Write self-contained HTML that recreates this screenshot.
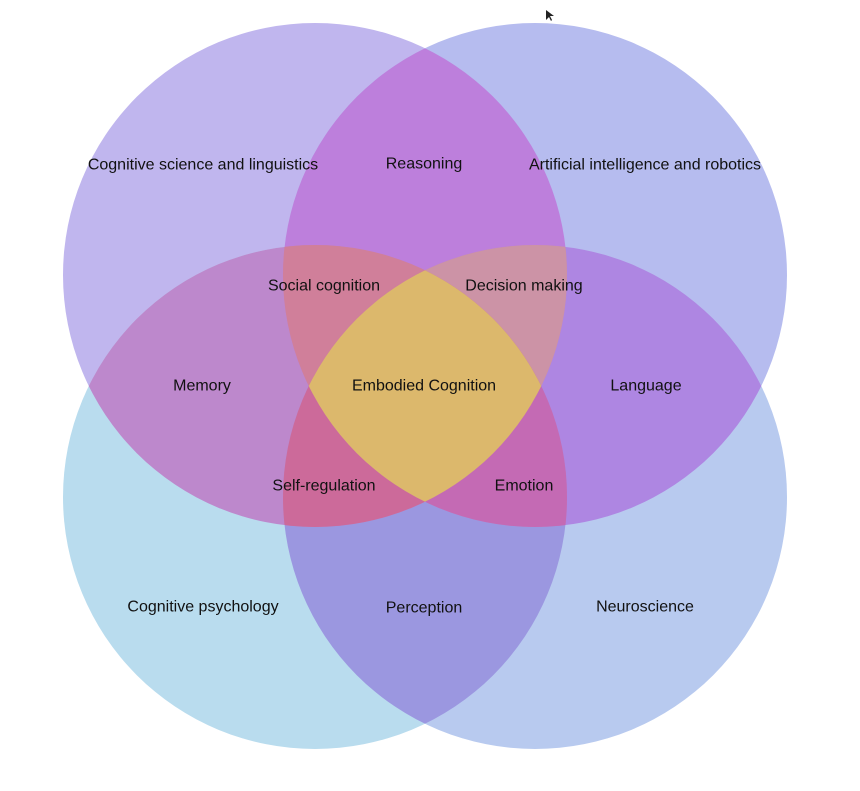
<!DOCTYPE html>
<html><head><meta charset="utf-8"><style>
html,body{margin:0;padding:0;background:#fff;width:860px;height:791px;overflow:hidden}
text{font-family:"Liberation Sans",Helvetica,Arial,sans-serif;font-size:16px;fill:#111;text-anchor:middle;dominant-baseline:central}
</style></head><body>
<svg width="860" height="791" viewBox="0 0 860 791" xmlns="http://www.w3.org/2000/svg">
<defs>
<clipPath id="A"><circle cx="315" cy="275" r="252"/></clipPath>
<clipPath id="B"><circle cx="535" cy="275" r="252"/></clipPath>
<clipPath id="C"><circle cx="315" cy="497" r="252"/></clipPath>
<clipPath id="D"><circle cx="535" cy="497" r="252"/></clipPath>
</defs>
<!-- singles -->
<circle cx="315" cy="275" r="252" fill="#c0b6ee"/>
<circle cx="535" cy="275" r="252" fill="#b6bcef"/>
<circle cx="315" cy="497" r="252" fill="#b9dcee"/>
<circle cx="535" cy="497" r="252" fill="#b8caef"/>
<!-- pairs -->
<g clip-path="url(#A)"><circle cx="535" cy="275" r="252" fill="#bd7fdc"/></g>
<g clip-path="url(#A)"><circle cx="315" cy="497" r="252" fill="#bd88cc"/></g>
<g clip-path="url(#B)"><circle cx="535" cy="497" r="252" fill="#ae86e2"/></g>
<g clip-path="url(#C)"><circle cx="535" cy="497" r="252" fill="#9b97e0"/></g>
<g clip-path="url(#A)"><circle cx="535" cy="497" r="252" fill="#c47fbf"/></g>
<g clip-path="url(#B)"><circle cx="315" cy="497" r="252" fill="#c47fbf"/></g>
<!-- triples -->
<g clip-path="url(#A)"><g clip-path="url(#B)"><circle cx="315" cy="497" r="252" fill="#d07f9a"/></g></g>
<g clip-path="url(#A)"><g clip-path="url(#B)"><circle cx="535" cy="497" r="252" fill="#cc93a6"/></g></g>
<g clip-path="url(#A)"><g clip-path="url(#C)"><circle cx="535" cy="497" r="252" fill="#cc6a9a"/></g></g>
<g clip-path="url(#B)"><g clip-path="url(#C)"><circle cx="535" cy="497" r="252" fill="#c46ab4"/></g></g>
<!-- quad -->
<g clip-path="url(#A)"><g clip-path="url(#B)"><g clip-path="url(#C)"><circle cx="535" cy="497" r="252" fill="#dcb86c"/></g></g></g>
<!-- cursor -->
<polygon points="546,10 546,20 549,17 551,21 552,20 550,16 554,16" fill="#222"/>
<text x="203" y="165">Cognitive science and linguistics</text>
<text x="424" y="164">Reasoning</text>
<text x="645" y="165">Artificial intelligence and robotics</text>
<text x="324" y="286">Social cognition</text>
<text x="524" y="286">Decision making</text>
<text x="202" y="386">Memory</text>
<text x="424" y="386">Embodied Cognition</text>
<text x="646" y="386">Language</text>
<text x="324" y="486">Self-regulation</text>
<text x="524" y="486">Emotion</text>
<text x="203" y="607">Cognitive psychology</text>
<text x="424" y="608">Perception</text>
<text x="645" y="607">Neuroscience</text>
</svg>
</body></html>
